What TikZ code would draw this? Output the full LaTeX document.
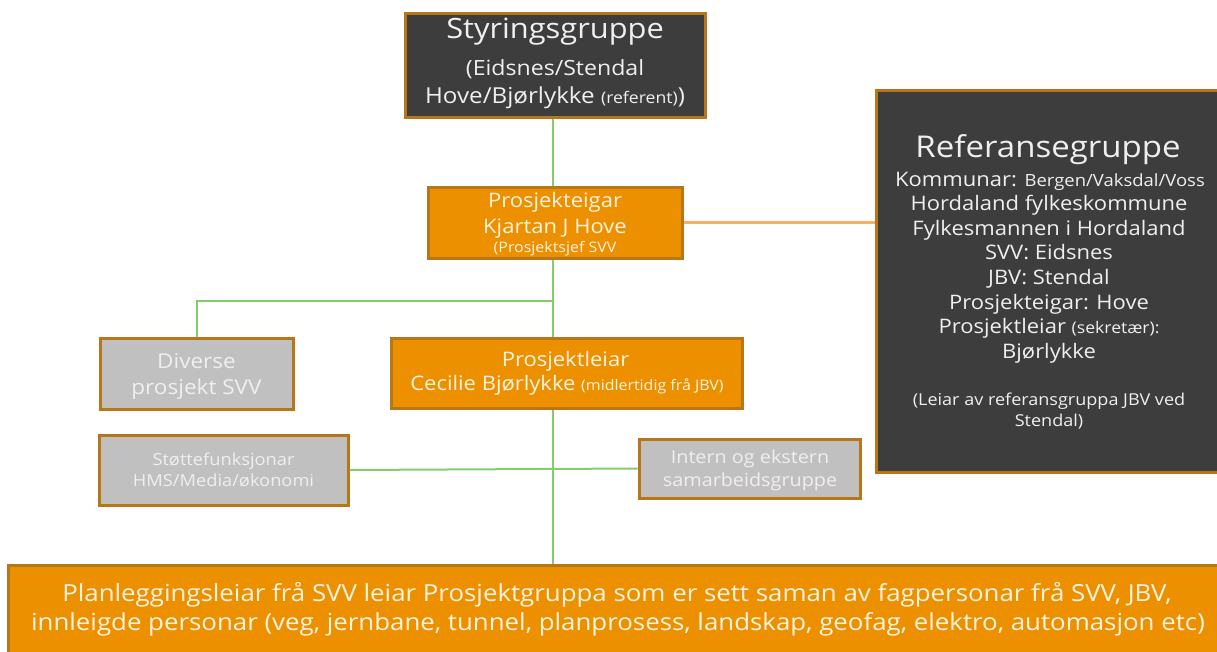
\documentclass[tikz,border=0pt]{standalone}
\usepackage{fontspec}
\setmainfont[FakeStretch=1.1]{Open Sans}
\definecolor{darkbox}{HTML}{3D3D3D}
\definecolor{orangebox}{HTML}{EC9000}
\definecolor{greybox}{HTML}{C0C0C0}
\definecolor{rim}{HTML}{B8761A}
\definecolor{linegreen}{HTML}{84CC6C}
\definecolor{lineorange}{HTML}{F5B262}
\definecolor{lighttext}{HTML}{EFEFEF}
\definecolor{creamtext}{HTML}{FFF4E0}
\newcommand{\fsz}[1]{\fontsize{#1}{\fpeval{#1*1.2}}\selectfont}
\tikzset{
  box/.style={draw=rim, line width=3pt, inner sep=0pt},
  darkstyle/.style={box, fill=darkbox},
  orangestyle/.style={box, fill=orangebox},
  greystyle/.style={box, fill=greybox},
  gline/.style={draw=linegreen, line width=2pt},
  oline/.style={draw=lineorange, line width=2.5pt},
  txt/.style={inner sep=0pt, anchor=base, text=lighttext},
  otxt/.style={txt, text=creamtext},
}
\begin{document}
\begin{tikzpicture}[x=1pt,y=-1pt]
\useasboundingbox (0,0) rectangle (1217,651);
% boxes
\node[darkstyle, minimum width=300pt, minimum height=104pt] (styr) at (555,65) {};
\node[orangestyle, minimum width=254pt, minimum height=71pt] (eigar) at (555,222.5) {};
\node[darkstyle, minimum width=345pt, minimum height=382pt] (ref) at (1049,281) {};
\node[greystyle, minimum width=193pt, minimum height=71pt] (div) at (196.5,373.5) {};
\node[orangestyle, minimum width=351pt, minimum height=70pt] (leiar) at (566.5,373) {};
\node[greystyle, minimum width=249pt, minimum height=70pt] (stotte) at (223.5,470) {};
\node[greystyle, minimum width=221pt, minimum height=59pt] (intern) at (749.5,468.5) {};
\node[orangestyle, minimum width=1214pt, minimum height=90pt] (plan) at (615,610) {};

% connectors
\coordinate (j1) at (553,301);
\draw[gline] (styr.south -| j1) -- (eigar.north -| j1);
\draw[gline] (eigar.south -| j1) -- (leiar.north -| j1);
\draw[gline] (div.north) -- (div.north |- j1) -- (j1);
\draw[gline] (leiar.south -| j1) -- (plan.north -| j1);
\draw[gline] (stotte.east) -- (intern.west);
\draw[oline] (eigar.east) -- (ref.west |- eigar.east);

% Styringsgruppe
\node[txt, font=\fsz{28}] (s1) at (555,38) {Styringsgruppe};
\node[txt, font=\fsz{21}] (s2) at (555,75) {(Eidsnes/Stendal};
\node[txt, font=\fsz{22}] (s3) at (555,103) {Hove/Bjørlykke {\fsz{16}(referent)})};
% Prosjekteigar
\node[otxt, font=\fsz{20}] (e1) at (555,207) {Prosjekteigar};
\node[otxt, font=\fsz{20}] (e2) at (555,233) {Kjartan J Hove};
\node[otxt, font=\fsz{14.5}] (e3) at (555,252) {(Prosjektsjef SVV};
% Referansegruppe
\node[txt, font=\fsz{30}] (r0) at (1048,157) {Referansegruppe};
\node[txt, font=\fsz{20}] (r1) at (1050,186) {Kommunar: {\fsz{16.8}Bergen/Vaksdal/Voss}};
\node[txt, font=\fsz{20}] (r2) at (1049,210.6) {Hordaland fylkeskommune};
\node[txt, font=\fsz{20}] (r3) at (1049,235.2) {Fylkesmannen i Hordaland};
\node[txt, font=\fsz{20}] (r4) at (1049,259.8) {SVV: Eidsnes};
\node[txt, font=\fsz{20}] (r5) at (1049,284.4) {JBV: Stendal};
\node[txt, font=\fsz{20}] (r6) at (1049,309) {Prosjekteigar: Hove};
\node[txt, font=\fsz{20}] (r7) at (1049,333.6) {Prosjektleiar {\fsz{16}(sekretær):}};
\node[txt, font=\fsz{20}] (r8) at (1049,358.2) {Bjørlykke};
\node[txt, font=\fsz{16.4}] (r9) at (1049,405) {(Leiar av referansgruppa JBV ved};
\node[txt, font=\fsz{16.4}] (r10) at (1049,426) {Stendal)};
% Diverse
\node[txt, font=\fsz{20.5}] (d1) at (196.5,368) {Diverse};
\node[txt, font=\fsz{20.5}] (d2) at (196.5,394) {prosjekt SVV};
% Prosjektleiar
\node[otxt, font=\fsz{20}] (l1) at (565.5,366) {Prosjektleiar};
\node[otxt, font=\fsz{20}] (l2) at (567,390) {Cecilie Bjørlykke {\fsz{14.5}(midlertidig frå JBV)}};
% Stottefunksjonar
\node[txt, font=\fsz{16.6}] (t1) at (223.5,465) {Støttefunksjonar};
\node[txt, font=\fsz{16.6}] (t2) at (223.5,486) {HMS/Media/økonomi};
% Intern
\node[txt, font=\fsz{18}] (i1) at (750,463) {Intern og ekstern};
\node[txt, font=\fsz{18}] (i2) at (750,486) {samarbeidsgruppe};
% bottom
\node[otxt, font=\fsz{23.5}] (p1) at (617,601) {Planleggingsleiar frå SVV leiar Prosjektgruppa som er sett saman av fagpersonar frå SVV, JBV,};
\node[otxt, font=\fsz{23.5}] (p2) at (618,630) {innleigde personar (veg, jernbane, tunnel, planprosess, landskap, geofag, elektro, automasjon etc)};
\end{tikzpicture}
\end{document}
